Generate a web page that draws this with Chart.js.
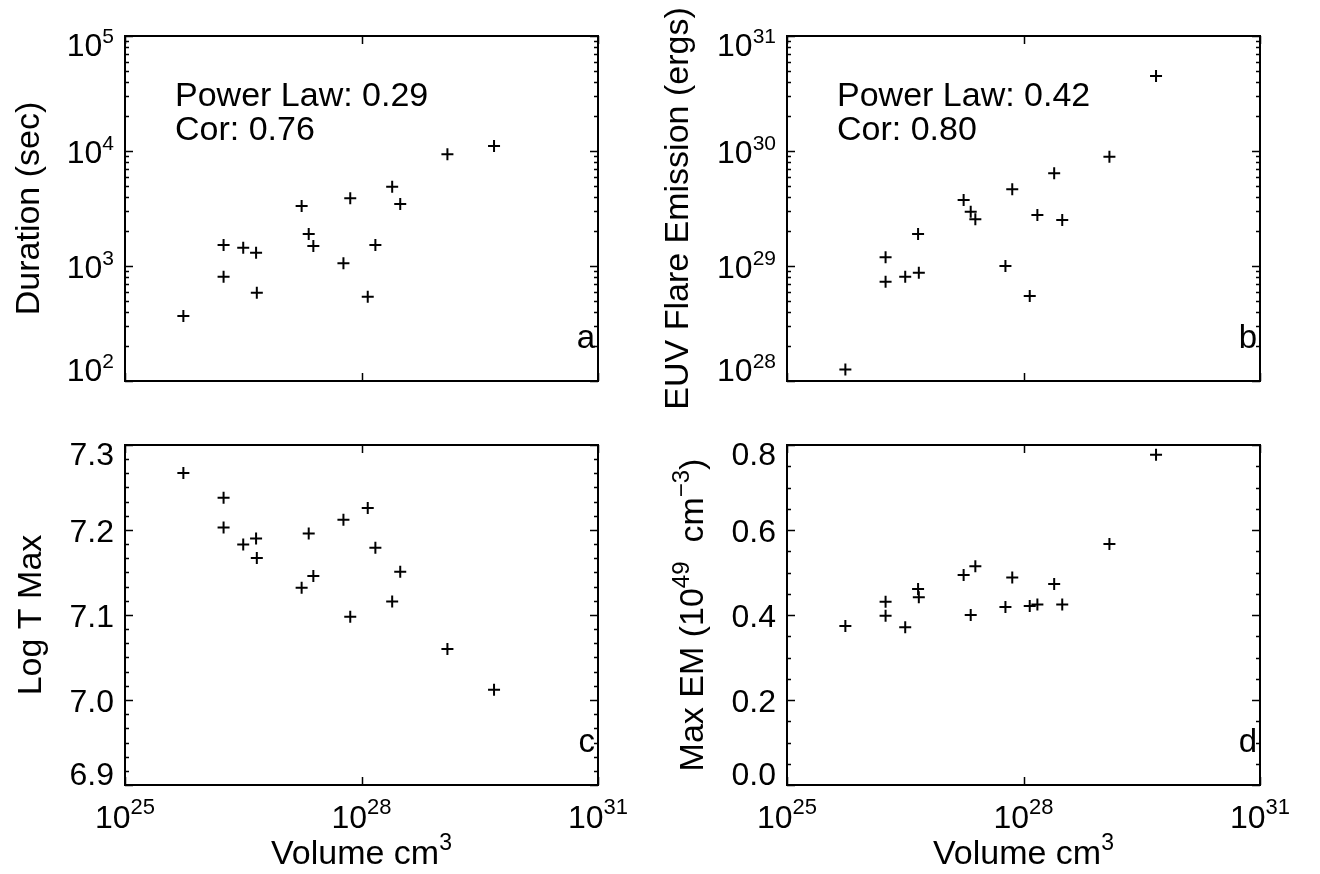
<!DOCTYPE html>
<html>
<head>
<meta charset="utf-8">
<title>Flare volume correlations</title>
<script src="https://cdn.jsdelivr.net/npm/chart.js@4.4.1/dist/chart.umd.min.js"></script>
<style>
  html, body { margin: 0; padding: 0; background: #fff; }
  #wrap { position: relative; width: 1320px; height: 874px; overflow: hidden; }
  #wrap canvas { position: absolute; }
</style>
</head>
<body>
<div id="wrap">
  <canvas id="chart-a" width="660" height="437" style="left:0;top:0"></canvas>
  <canvas id="chart-b" width="660" height="437" style="left:660px;top:0"></canvas>
  <canvas id="chart-c" width="660" height="437" style="left:0;top:437px"></canvas>
  <canvas id="chart-d" width="660" height="437" style="left:660px;top:437px"></canvas>
</div>
<script>
// ---- data ----
const volume = [5.5e25, 1.78e26, 1.78e26, 3.16e26, 4.6e26, 4.7e26, 1.74e27, 2.14e27, 2.45e27,
  5.9e27, 7.2e27, 1.2e28, 1.5e28, 2.45e28, 3.1e28, 1.23e29, 4.8e29];
const duration = [367, 1524, 807, 1443, 1306, 586, 3326, 1897, 1493,
  1054, 3882, 541, 1524, 4898, 3459, 9354, 11040];
const euvEmission = [1.26e28, 1.19e29, 7.3e28, 8.07e28, 1.9e29, 8.75e28, 3.75e29, 2.97e29, 2.55e29,
  1.0e29, 4.64e29, 5.48e28, 2.77e29, 6.4e29, 2.51e29, 8.93e29, 4.49e30];
const logTMax = [7.267, 7.238, 7.203, 7.183, 7.190, 7.167, 7.132, 7.196, 7.146,
  7.212, 7.098, 7.226, 7.179, 7.116, 7.151, 7.060, 7.012];
const maxEM = [0.374, 0.431, 0.398, 0.371, 0.461, 0.442, 0.494, 0.400, 0.515,
  0.419, 0.488, 0.421, 0.425, 0.473, 0.425, 0.567, 0.777];

// tick labels
const volumeTickExp = [25, 28, 31];
const durationTickExp = [2, 3, 4, 5];
const euvTickExp = [28, 29, 30, 31];
const tmaxTicks = ['6.9', '7.0', '7.1', '7.2', '7.3'];
const emTicks = ['0.0', '0.2', '0.4', '0.6', '0.8'];

const powerLawText = ['Power Law: 0.29', 'Power Law: 0.42'];
const corText = ['Cor: 0.76', 'Cor: 0.80'];

const FONT = "'Liberation Sans', Arial, Helvetica, sans-serif";

// draw text made of normal and superscript pieces
function drawRich(ctx, segs, x, y, align, size, supSize, raise) {
  ctx.textAlign = 'left';
  ctx.textBaseline = 'alphabetic';
  let total = 0;
  const widths = segs.map(s => {
    ctx.font = `${s.sup ? supSize : size}px ${FONT}`;
    const w = ctx.measureText(s.t).width;
    total += w;
    return w;
  });
  let cx = align === 'right' ? x - total : align === 'center' ? x - total / 2 : x;
  segs.forEach((s, i) => {
    ctx.font = `${s.sup ? supSize : size}px ${FONT}`;
    ctx.fillText(s.t, cx, s.sup ? y - raise : y);
    cx += widths[i];
  });
}

function logMinors(min, max) {
  const out = [];
  for (let d = Math.round(Math.log10(min)); d < Math.round(Math.log10(max)); d++) {
    for (let m = 2; m <= 9; m++) out.push(m * Math.pow(10, d));
  }
  return out;
}

function linMinors(min, max, step) {
  const out = [];
  const n = Math.round((max - min) / step);
  for (let i = 1; i < n; i++) out.push(min + i * step);
  return out;
}

// frame, inward ticks, labels and titles
const framePlugin = {
  id: 'frame',
  afterDraw(chart, args, opts) {
    const ctx = chart.ctx;
    const { left, right, top, bottom } = chart.chartArea;
    const xs = chart.scales.x, ys = chart.scales.y;
    ctx.save();
    ctx.strokeStyle = '#000';
    ctx.fillStyle = '#000';
    ctx.lineWidth = 2;
    ctx.strokeRect(left, top, right - left, bottom - top);

    ctx.lineWidth = 1.5;
    ctx.beginPath();
    opts.xMajors.forEach(v => {
      const px = Math.round(xs.getPixelForValue(v)) + 0.5;
      ctx.moveTo(px, bottom); ctx.lineTo(px, bottom - 8);
      ctx.moveTo(px, top); ctx.lineTo(px, top + 8);
    });
    opts.yMajors.forEach(v => {
      const py = Math.round(ys.getPixelForValue(v)) + 0.5;
      ctx.moveTo(left, py); ctx.lineTo(left + 8, py);
      ctx.moveTo(right, py); ctx.lineTo(right - 8, py);
    });
    opts.yMinors.forEach(v => {
      const py = Math.round(ys.getPixelForValue(v)) + 0.5;
      ctx.moveTo(left, py); ctx.lineTo(left + 4, py);
      ctx.moveTo(right, py); ctx.lineTo(right - 4, py);
    });
    ctx.stroke();

    // y tick labels
    opts.yMajors.forEach((v, i) => {
      const py = ys.getPixelForValue(v);
      let base;
      if (i === opts.yMajors.length - 1) base = top + 20;
      else if (i === 0) base = bottom;
      else base = py + 11.5;
      drawRich(ctx, opts.yLabels[i], left - 11, base, 'right', 32, 21, 13);
    });

    // x tick labels
    if (opts.xLabels) {
      opts.xMajors.forEach((v, i) => {
        const px = xs.getPixelForValue(v);
        drawRich(ctx, opts.xLabels[i], px, bottom + 43, 'center', 32, 22, 14);
      });
      drawRich(ctx, [{ t: 'Volume cm' }, { t: '3', sup: true }], (left + right) / 2, bottom + 79,
        'center', 34, 23, 14);
    }

    // y title
    ctx.save();
    ctx.translate(opts.yTitleX, (top + bottom) / 2);
    ctx.rotate(-Math.PI / 2);
    drawRich(ctx, opts.yTitle, 0, 0, 'center', 34, 24, 14);
    ctx.restore();

    // annotation
    if (opts.note) {
      ctx.font = `34px ${FONT}`;
      ctx.textAlign = 'left';
      ctx.textBaseline = 'alphabetic';
      ctx.fillText(opts.note[0], left + 50, top + 70);
      ctx.fillText(opts.note[1], left + 50, top + 104);
    }

    // panel letter
    ctx.font = `33px ${FONT}`;
    ctx.textAlign = 'right';
    ctx.fillText(opts.letter, right - 3, bottom - 33);
    ctx.restore();
  }
};

const powLabels = exps => exps.map(e => [{ t: '10' }, { t: String(e), sup: true }]);

function makePanel(id, ys, yScale, padding, frame) {
  const ctx = document.getElementById(id).getContext('2d');
  return new Chart(ctx, {
    type: 'scatter',
    data: {
      datasets: [{
        data: volume.map((v, i) => ({ x: v, y: ys[i] })),
        pointStyle: 'cross',
        pointRadius: 6,
        pointHoverRadius: 6,
        borderColor: '#000',
        borderWidth: 2,
        clip: false
      }]
    },
    options: {
      responsive: false,
      animation: false,
      layout: { padding: padding },
      events: [],
      plugins: {
        legend: { display: false },
        tooltip: { enabled: false },
        frame: frame
      },
      scales: {
        x: { type: 'logarithmic', min: 1e25, max: 1e31, display: false },
        y: Object.assign({ display: false }, yScale)
      }
    },
    plugins: [framePlugin]
  });
}

const volMajors = volumeTickExp.map(e => Math.pow(10, e));

makePanel('chart-a', duration,
  { type: 'logarithmic', min: 1e2, max: 1e5 },
  { left: 125, right: 62, top: 36, bottom: 56 },
  {
    xMajors: volMajors,
    yMajors: durationTickExp.map(e => Math.pow(10, e)),
    yMinors: logMinors(1e2, 1e5),
    yLabels: powLabels(durationTickExp),
    yTitle: [{ t: 'Duration (sec)' }],
    yTitleX: 39,
    note: [powerLawText[0], corText[0]],
    letter: 'a'
  });

makePanel('chart-b', euvEmission,
  { type: 'logarithmic', min: 1e28, max: 1e31 },
  { left: 127, right: 60, top: 36, bottom: 56 },
  {
    xMajors: volMajors,
    yMajors: euvTickExp.map(e => Math.pow(10, e)),
    yMinors: logMinors(1e28, 1e31),
    yLabels: powLabels(euvTickExp),
    yTitle: [{ t: 'EUV Flare Emission (ergs)' }],
    yTitleX: 28,
    note: [powerLawText[1], corText[1]],
    letter: 'b'
  });

makePanel('chart-c', logTMax,
  { type: 'linear', min: 6.9, max: 7.3 },
  { left: 125, right: 62, top: 2, bottom: 89 },
  {
    xMajors: volMajors,
    xLabels: powLabels(volumeTickExp),
    yMajors: tmaxTicks.map(Number),
    yMinors: linMinors(6.9, 7.3, 0.1 / 6),
    yLabels: tmaxTicks.map(t => [{ t: t }]),
    yTitle: [{ t: 'Log T Max' }],
    yTitleX: 41,
    letter: 'c'
  });

makePanel('chart-d', maxEM,
  { type: 'linear', min: 0, max: 0.8 },
  { left: 127, right: 60, top: 2, bottom: 89 },
  {
    xMajors: volMajors,
    xLabels: powLabels(volumeTickExp),
    yMajors: emTicks.map(Number),
    yMinors: linMinors(0, 0.8, 0.05),
    yLabels: emTicks.map(t => [{ t: t }]),
    yTitle: [{ t: 'Max EM (10' }, { t: '49', sup: true }, { t: '  cm' }, { t: '\u22123', sup: true }, { t: ')' }],
    yTitleX: 43,
    letter: 'd'
  });
</script>
</body>
</html>
